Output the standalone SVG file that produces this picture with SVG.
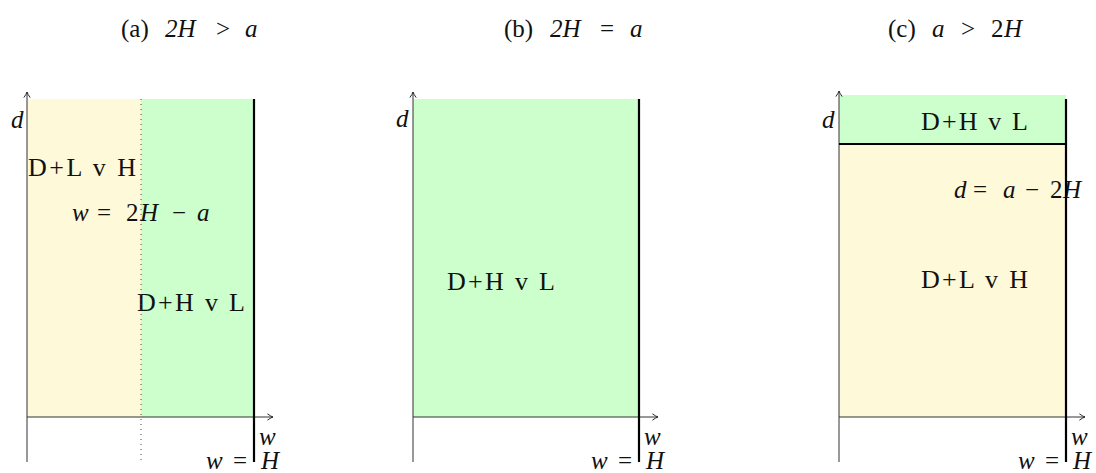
<svg xmlns="http://www.w3.org/2000/svg" width="1096" height="473" viewBox="0 0 1096 473">
<defs>
<marker id="arr" viewBox="0 0 10 10" refX="9" refY="5" markerWidth="8" markerHeight="8" orient="auto" markerUnits="userSpaceOnUse">
<path d="M2,1 Q6,4 9,5 Q6,6 2,9" fill="none" stroke="#222" stroke-width="1.2"/>
</marker>
<style>
text{font-family:"Liberation Serif","DejaVu Serif",serif;font-size:25px;fill:#111}
.lbl{font-size:26px}
.m{font-style:italic}
.ax{stroke:#333;stroke-width:1;fill:none}
.thick{stroke:#000;stroke-width:2.2;fill:none}
.dot{stroke:#444;stroke-width:1;stroke-dasharray:1 4;fill:none}
.yel{fill:#fef9d8}
.grn{fill:#ccffcc}
</style>
</defs>
<g id="titles">
<text y="37"><tspan x="121">(a)</tspan><tspan class="m" x="165">2H</tspan><tspan x="216">&gt;</tspan><tspan class="m" x="245">a</tspan></text>
<text y="37"><tspan x="504">(b)</tspan><tspan class="m" x="550">2H</tspan><tspan x="600">=</tspan><tspan class="m" x="630">a</tspan></text>
<text y="37"><tspan x="888">(c)</tspan><tspan class="m" x="932">a</tspan><tspan x="961">&gt;</tspan><tspan x="991">2</tspan><tspan class="m" x="1004">H</tspan></text>
</g>
<g id="panel-a">
<rect class="yel" x="27" y="99" width="114" height="318"/>
<rect class="grn" x="141" y="99" width="113" height="318"/>
<text class="lbl" x="28" y="176" textLength="108" lengthAdjust="spacing">D+L v H</text>
<text y="221"><tspan class="m" x="72">w</tspan><tspan x="97">=</tspan><tspan x="126">2</tspan><tspan class="m" x="140">H</tspan><tspan x="172">−</tspan><tspan class="m" x="197">a</tspan></text>
<text class="lbl" x="137" y="311" textLength="108" lengthAdjust="spacing">D+H v L</text>
<text class="m" x="11" y="128">d</text>
<text class="m" x="259" y="445">w</text>
<text y="469"><tspan class="m" x="206">w</tspan><tspan x="233">=</tspan><tspan class="m" x="261">H</tspan></text>
</g>
<g id="panel-b">
<rect class="grn" x="413" y="99" width="226" height="318"/>
<text class="lbl" x="447" y="290" textLength="108" lengthAdjust="spacing">D+H v L</text>
<text class="m" x="396" y="127">d</text>
<text class="m" x="644" y="445">w</text>
<text y="469"><tspan class="m" x="591">w</tspan><tspan x="618">=</tspan><tspan class="m" x="646">H</tspan></text>
</g>
<g id="panel-c">
<rect class="grn" x="839" y="95" width="227" height="49"/>
<rect class="yel" x="839" y="144" width="227" height="273"/>
<text class="lbl" x="921" y="130" textLength="107" lengthAdjust="spacing">D+H v L</text>
<text y="198"><tspan class="m" x="954">d</tspan><tspan x="973">=</tspan><tspan class="m" x="1003">a</tspan><tspan x="1025">−</tspan><tspan x="1050">2</tspan><tspan class="m" x="1063">H</tspan></text>
<text class="lbl" x="921" y="288" textLength="107" lengthAdjust="spacing">D+L v H</text>
<text class="m" x="822" y="128">d</text>
<text class="m" x="1071" y="445">w</text>
<text y="469"><tspan class="m" x="1018">w</tspan><tspan x="1045">=</tspan><tspan class="m" x="1073">H</tspan></text>
</g>
<g id="connectors">
<line class="ax" x1="27" y1="462" x2="27" y2="92" marker-end="url(#arr)"/>
<line class="ax" x1="27" y1="417" x2="273" y2="417" marker-end="url(#arr)"/>
<line class="dot" x1="141" y1="99" x2="141" y2="462"/>
<line class="thick" x1="254" y1="99" x2="254" y2="462"/>
<line class="ax" x1="413" y1="462" x2="413" y2="92" marker-end="url(#arr)"/>
<line class="ax" x1="413" y1="417" x2="658" y2="417" marker-end="url(#arr)"/>
<line class="thick" x1="639" y1="99" x2="639" y2="462"/>
<line class="ax" x1="839" y1="462" x2="839" y2="91" marker-end="url(#arr)"/>
<line class="ax" x1="839" y1="417" x2="1085" y2="417" marker-end="url(#arr)"/>
<line class="thick" x1="839" y1="144" x2="1066" y2="144"/>
<line class="thick" x1="1066" y1="99" x2="1066" y2="462"/>
</g>
</svg>
